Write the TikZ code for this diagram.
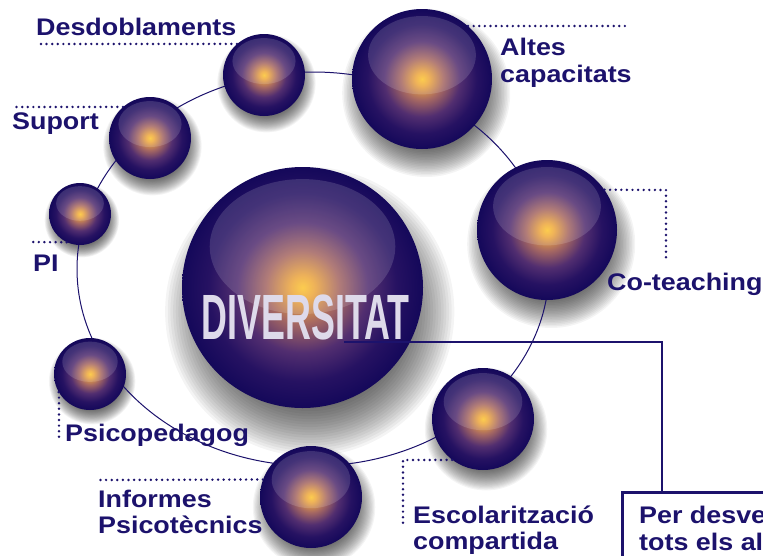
\documentclass[tikz,border=0pt]{standalone}
\usepackage{fontspec}
\newfontfamily\labfont{Liberation Sans}[FakeStretch=1.12]
\newfontfamily\divfont{Liberation Sans}[FakeStretch=0.56]
\definecolor{navy}{RGB}{28,18,108}
\definecolor{divtext}{RGB}{222,218,234}
\definecolor{sA}{RGB}{252,196,50}
\definecolor{sB}{RGB}{236,166,62}
\definecolor{sC}{RGB}{166,104,98}
\definecolor{sD}{RGB}{82,46,112}
\definecolor{sE}{RGB}{38,18,98}
\definecolor{sF}{RGB}{20,8,90}
\pgfdeclareradialshading{sphereshade}{\pgfpointorigin}{color(0bp)=(sA); color(2.5bp)=(sB); color(7.5bp)=(sC); color(13.5bp)=(sD); color(19.5bp)=(sE); color(25bp)=(sF); color(50bp)=(sF)}
\tikzset{
  sph/.style={circle, inner sep=0pt, draw=none, shading=sphereshade},
  hl/.style={fill=white, fill opacity=0.14},
  shadowlayer/.style={fill=black, fill opacity=0.042},
  orbit/.style={draw=navy, line width=1pt},
  leader/.style={draw=navy, line width=2.7pt, line cap=round, dash pattern=on 0pt off 5.6pt},
  conn/.style={draw=navy, line width=2pt},
  lab/.style={text=navy, font=\labfont\bfseries\fontsize{24}{27}\selectfont, anchor=base west, inner sep=0pt},
  boxstyle/.style={draw=navy, line width=2.5pt, anchor=north west, minimum width=220pt, minimum height=120pt, inner sep=0pt}
}
\begin{document}
\begin{tikzpicture}[x=1pt,y=-1pt]
\useasboundingbox (0,0) rectangle (763,555);
\clip (0,0) rectangle (763,555);
% shadows
\foreach \x/\y/\r in {264/75/41,150/138/41,422/79/70,547/230/70,80/214/31,90/374/36,311/497/51,483/419/51,302.5/287.5/120.5}{
  \foreach \k in {0,...,19}{
    \fill[shadowlayer] ({\x+0.06*\r},{\y+0.2*\r}) circle ({\r*(1.2-0.022*\k)});
  }
}
% orbit
\draw[orbit] (313,269) ellipse (236 and 197);
% spheres
\foreach \n/\x/\y/\r in {desd/264/75/41,supo/150/138/41,alte/422/79/70,cote/547/230/70,pi/80/214/31,psic/90/374/36,info/311/497/51,esco/483/419/51,div/302.5/287.5/120.5}{
  \node[sph, minimum size={2*\r*1pt}] (\n) at (\x,\y) {};
  \fill[hl] (\x,{\y-0.34*\r}) ellipse ({0.77*\r} and {0.56*\r});
}
% DIVERSITAT
\node[text=divtext, font=\divfont\bfseries\fontsize{64}{70}\selectfont, anchor=base, inner sep=0pt] (divlabel) at (305.5,339) {DIVERSITAT};
% connector to box
\coordinate (dstart) at (344,342);
\coordinate (boxtop) at (662,491);
\node[boxstyle] (box) at (621,491) {};
\draw[conn] (dstart) -| (boxtop);
\node[lab] (boxl1) at (639,523) {Per desve};
\node[lab] (boxl2) at (639,550) {tots els al};
% leaders
\coordinate (dDesd) at (36,44);
\coordinate (dSupo) at (12,107);
\coordinate (dAlte) at (626,26);
\coordinate (dCote1) at (666,190);
\coordinate (dCote2) at (666,259);
\coordinate (dPi) at (32,242);
\coordinate (dPsic1) at (59,393);
\coordinate (dPsic2) at (59,442);
\coordinate (dInfo) at (99,480);
\coordinate (dEsco1) at (403,460);
\coordinate (dEsco2) at (403,523);
\draw[leader] (desd.131) -- (dDesd);
\draw[leader] (supo.131) -- (dSupo);
\draw[leader] (alte.49) -- (dAlte);
\draw[leader] (cote.35) -- (dCote1) -- (dCote2);
\draw[leader] (pi.245) -- (dPi);
\draw[leader] (psic.210) -- (dPsic1) -- (dPsic2);
\draw[leader] (info.160) -- (dInfo);
\draw[leader] (esco.233) -- (dEsco1) -- (dEsco2);
% labels
\node[lab] (tDesd) at (36,35) {Desdoblaments};
\node[lab] (tSupo) at (12,129) {Suport};
\node[lab] (tAlte1) at (500,55) {Altes};
\node[lab] (tAlte2) at (500,82) {capacitats};
\node[lab] (tCote) at (607,290) {Co-teaching};
\node[lab] (tPi) at (33,271) {PI};
\node[lab] (tPsic) at (65,441) {Psicopedagog};
\node[lab] (tInfo1) at (98,507) {Informes};
\node[lab] (tInfo2) at (98,533) {Psicotècnics};
\node[lab] (tEsco1) at (413,523) {Escolarització};
\node[lab] (tEsco2) at (413,549) {compartida};
\end{tikzpicture}
\end{document}
